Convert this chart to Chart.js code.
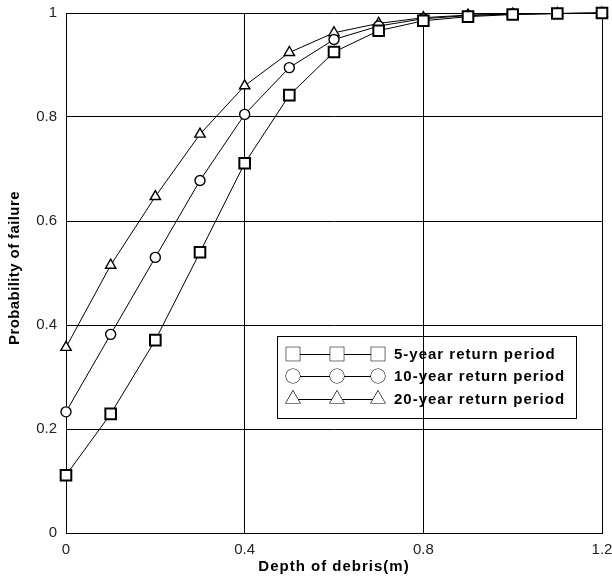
<!DOCTYPE html>
<html>
<head>
<meta charset="utf-8">
<script src="https://cdn.jsdelivr.net/npm/chart.js@4/dist/chart.umd.min.js"></script>
<style>
  html, body { margin: 0; padding: 0; background: #fff; }
  #wrap { width: 612px; height: 577px; }
</style>
</head>
<body>
<div id="wrap"><canvas id="chart" width="612" height="577"></canvas></div>
<script>
const depths = [0, 0.1, 0.2, 0.3, 0.4, 0.5, 0.6, 0.7, 0.8, 0.9, 1.0, 1.1, 1.2];
const prob5 = [0.111, 0.229, 0.371, 0.540, 0.711, 0.842, 0.925, 0.966, 0.985, 0.993, 0.997, 0.999, 1.0];
const prob10 = [0.233, 0.382, 0.530, 0.678, 0.805, 0.895, 0.949, 0.975, 0.989, 0.995, 0.998, 0.999, 1.0];
const prob20 = [0.357, 0.515, 0.647, 0.767, 0.860, 0.924, 0.962, 0.980, 0.991, 0.996, 0.998, 0.999, 1.0];
const seriesLabels = ["5-year return period", "10-year return period", "20-year return period"];
const xTicks = [0, 0.4, 0.8, 1.2];
const yTicks = [0, 0.2, 0.4, 0.6, 0.8, 1];
const xTitle = "Depth of debris(m)";
const yTitle = "Probability of failure";

const FONT = "'Liberation Sans', Arial, sans-serif";
const toPoints = (ys) => ys.map((y, i) => ({ x: depths[i], y }));

function series(label, ys, style, radius, bw) {
  return {
    label,
    data: toPoints(ys),
    borderColor: "#000",
    borderWidth: 1,
    pointStyle: style,
    pointRadius: radius,
    pointBorderWidth: bw,
    pointBackgroundColor: "#fff",
    pointBorderColor: "#000",
    tension: 0,
    clip: false,
  };
}

// boxed legend with three markers per row, drawn under the grid like the original
const boxLegend = {
  id: "boxLegend",
  beforeDraw(chart) {
    const ctx = chart.ctx;
    const box = { left: 277, top: 336, right: 576, bottom: 418 };
    ctx.save();
    ctx.strokeStyle = "#000";
    ctx.lineWidth = 1;
    ctx.strokeRect(box.left + 0.5, box.top + 0.5, box.right - box.left, box.bottom - box.top);
    const rows = [354, 376, 399];
    const marks = [293, 337, 378];
    chart.data.datasets.forEach((ds, i) => {
      const y = rows[i];
      ctx.beginPath();
      ctx.moveTo(marks[0], y + 0.5);
      ctx.lineTo(marks[2], y + 0.5);
      ctx.lineWidth = 1;
      ctx.strokeStyle = "#000";
      ctx.stroke();
      marks.forEach((mx) => {
        ctx.fillStyle = "#fff";
        ctx.strokeStyle = "#000";
        ctx.lineWidth = 1.2;
        const r = ds.pointStyle === "rect" ? 9.5 : ds.pointStyle === "circle" ? 7 : 8;
        Chart.helpers.drawPoint(ctx, { pointStyle: ds.pointStyle, radius: r, borderWidth: 1.2, rotation: 0 }, mx, y);
        ctx.fill();
      });
      ctx.fillStyle = "#000";
      ctx.font = "bold 15px " + FONT;
      ctx.letterSpacing = "1px";
      ctx.textBaseline = "middle";
      ctx.textAlign = "left";
      ctx.fillText(ds.label, 394, y + 1);
    });
    ctx.restore();
  },
  afterDraw(chart) {
    const ctx = chart.ctx;
    const area = chart.chartArea;
    ctx.save();
    ctx.fillStyle = "#000";
    ctx.font = "bold 15px " + FONT;
    ctx.textAlign = "center";
    ctx.textBaseline = "middle";
    ctx.letterSpacing = "1px";
    ctx.fillText(xTitle, (area.left + area.right) / 2, 567);
    ctx.letterSpacing = "0.4px";
    ctx.translate(15, 268);
    ctx.rotate(-Math.PI / 2);
    ctx.fillText(yTitle, 0, 0);
    ctx.restore();
  },
};

new Chart(document.getElementById("chart"), {
  type: "line",
  data: {
    datasets: [
      series(seriesLabels[0], prob5, "rect", 7.5, 2),
      series(seriesLabels[1], prob10, "circle", 5, 1.4),
      series(seriesLabels[2], prob20, "triangle", 6, 1.4),
    ],
  },
  plugins: [boxLegend],
  options: {
    responsive: false,
    animation: false,
    layout: { padding: { left: 0, right: 10, top: 13, bottom: 0 } },
    plugins: { legend: { display: false }, tooltip: { enabled: false } },
    scales: {
      x: {
        type: "linear",
        min: 0,
        max: 1.2,
        afterBuildTicks: (axis) => { axis.ticks = xTicks.map((v) => ({ value: v })); },
        afterFit: (axis) => {
          axis.height = 44;
          axis.paddingLeft = 0;
          axis.paddingRight = 0;
        },
        grid: { color: "#000", lineWidth: 1, drawTicks: false },
        border: { color: "#000", width: 1 },
        ticks: {
          padding: 8,
          color: "#222",
          font: { family: FONT, size: 15 },
          callback: (v) => String(v),
        },
      },
      y: {
        type: "linear",
        min: 0,
        max: 1,
        afterBuildTicks: (axis) => { axis.ticks = yTicks.map((v) => ({ value: v })); },
        afterFit: (axis) => {
          axis.width = 66;
          axis.paddingTop = 0;
          axis.paddingBottom = 0;
        },
        grid: { color: "#000", lineWidth: 1, drawTicks: false },
        border: { color: "#000", width: 1 },
        ticks: {
          padding: 9,
          color: "#222",
          font: { family: FONT, size: 15 },
          callback: (v) => String(v),
        },
      },
    },
  },
});
</script>
</body>
</html>
